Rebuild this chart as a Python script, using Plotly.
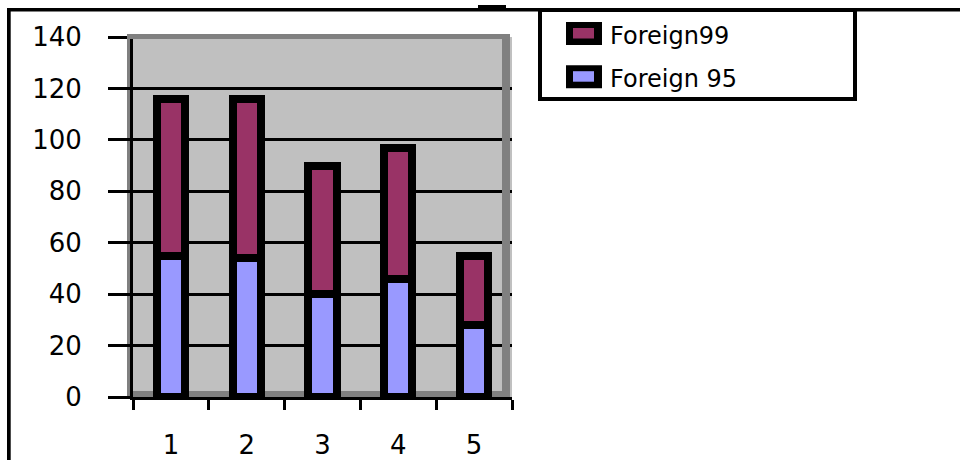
import plotly.graph_objects as go

categories = ["1", "2", "3", "4", "5"]
foreign95 = [55, 54, 40, 46, 28]
foreign99 = [61, 62, 50, 51, 27]
y_ticks = [0, 20, 40, 60, 80, 100, 120, 140]

COL99 = "#993366"
COL95 = "#9999FF"
FONT = "DejaVu Sans"

W, H = 960, 460
L, R, T, B = 133, 448, 37, 63
PW, PH = W - L - R, H - T - B


def X(px):
    return (px - L) / PW


def Y(py):
    return (H - B - py) / PH


fig = go.Figure()
fig.add_trace(go.Bar(x=categories, y=foreign95, name="Foreign 95",
                     marker=dict(color=COL95, line=dict(color="black", width=8)),
                     width=0.37, showlegend=False))
fig.add_trace(go.Bar(x=categories, y=foreign99, name="Foreign99",
                     marker=dict(color=COL99, line=dict(color="black", width=8)),
                     width=0.37, showlegend=False))

shapes = []


def rect(x0, y0, x1, y1, fill, layer="below", line=None):
    d = dict(type="rect", xref="paper", yref="paper",
             x0=X(x0), x1=X(x1), y0=Y(y1), y1=Y(y0),
             fillcolor=fill, layer=layer)
    if line:
        d["line"] = line
    else:
        d["line"] = dict(width=0)
    shapes.append(d)


# plot area 3D-ish border
rect(127, 34, 510, 397, "#808080", "below")
rect(131, 39, 502, 391, "#C0C0C0", "below")
rect(127, 34, 510, 39, "#808080", "above")
rect(502, 34, 510, 391, "#808080", "above")

# outer frame
rect(7, 8, 960, 11.5, "black", "above")
rect(7, 8, 10.7, 460, "black", "above")
rect(478, 5, 506, 9, "black", "above")

# legend box
shapes.append(dict(type="rect", xref="paper", yref="paper",
                   x0=X(540), x1=X(855), y0=Y(99), y1=Y(10),
                   line=dict(color="black", width=4), fillcolor="rgba(0,0,0,0)",
                   layer="above"))
# legend swatches
legend_items = [("Foreign99", COL99, 33.5, 36), ("Foreign 95", COL95, 76.7, 79)]
annotations = []
for name, col, sy, ty in legend_items:
    rect(566, sy - 11.5, 602, sy + 11.5, "black", "above")
    rect(573, sy - 5.5, 594, sy + 5, col, "above")
    annotations.append(dict(xref="paper", yref="paper", x=X(608), y=Y(ty),
                            text=name, showarrow=False, xanchor="left",
                            yanchor="middle",
                            font=dict(family=FONT, size=24, color="black")))

fig.update_layout(
    width=W, height=H,
    margin=dict(l=L, r=R, t=T, b=B, pad=0, autoexpand=False),
    paper_bgcolor="white",
    plot_bgcolor="#C0C0C0",
    barmode="stack",
    bargap=0.63,
    showlegend=False,
    shapes=shapes,
    annotations=annotations,
    font=dict(family=FONT, size=25, color="black"),
)
fig.update_xaxes(
    type="category", range=[-0.5, 4.5], automargin=False,
    showline=True, linecolor="black", linewidth=3,
    ticks="outside", ticklen=10, tickwidth=3, tickcolor="black",
    tickson="boundaries", showgrid=False, zeroline=False,
    ticklabelstandoff=23,
    tickfont=dict(family=FONT, size=26, color="black"),
)
fig.update_yaxes(
    range=[0, 140], tickvals=y_ticks, automargin=False,
    showline=True, linecolor="black", linewidth=3,
    ticks="outside", ticklen=22, tickwidth=3, tickcolor="black",
    showgrid=True, gridcolor="black", gridwidth=3, zeroline=False,
    ticklabelstandoff=21,
    tickfont=dict(family=FONT, size=26, color="black"),
)

fig.write_html("out.html")
